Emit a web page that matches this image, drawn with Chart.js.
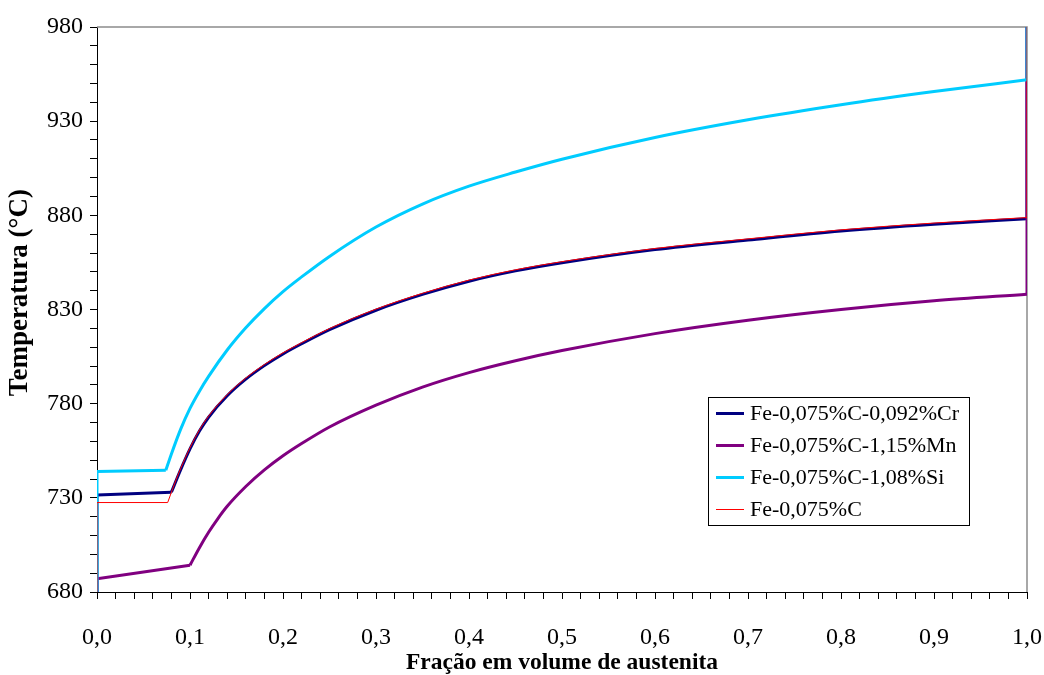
<!DOCTYPE html>
<html>
<head>
<meta charset="utf-8">
<script src="https://cdn.jsdelivr.net/npm/chart.js@4.4.1/dist/chart.umd.min.js"></script>
<style>
  html, body { margin: 0; padding: 0; background: #fff; }
  #wrap { width: 1044px; height: 675px; }
</style>
</head>
<body>
<div id="wrap"><canvas id="c" width="1044" height="675"></canvas></div>
<script>
// ---- Data ----
const seriesLabels = ["Fe-0,075%C-0,092%Cr", "Fe-0,075%C-1,15%Mn", "Fe-0,075%C-1,08%Si", "Fe-0,075%C"];

// Each series: vertical rise at x=0, straight stretch to the knee (index 2), curve to x=1, vertical rise at x=1.
const crX = [0, 0, 0.08, 0.09, 0.10, 0.11, 0.12, 0.14, 0.16, 0.18, 0.20, 0.22, 0.25, 0.30, 0.35, 0.40, 0.45, 0.50, 0.60, 0.70, 0.80, 0.90, 1.00, 1.00];
const crT = [680, 731.5, 733, 745, 756, 765.3, 772.8, 784.2, 793, 800.2, 806.4, 811.8, 819.3, 829.6, 838, 845, 850.5, 854.8, 861.8, 866.9, 871.7, 875.3, 878.2, 980];

const mnX = [0, 0, 0.10, 0.11, 0.12, 0.13, 0.14, 0.16, 0.18, 0.20, 0.22, 0.25, 0.30, 0.35, 0.40, 0.45, 0.50, 0.60, 0.70, 0.80, 0.90, 1.00, 1.00];
const mnT = [680, 687, 694.2, 703.4, 711.7, 719.0, 725.5, 736.0, 744.8, 752.3, 758.8, 767.6, 779.2, 788.8, 796.5, 802.8, 808.2, 817.2, 824.3, 830.0, 834.6, 838.1, 980];

const siX = [0, 0, 0.074, 0.08, 0.09, 0.10, 0.11, 0.12, 0.14, 0.16, 0.18, 0.20, 0.22, 0.25, 0.30, 0.35, 0.40, 0.45, 0.50, 0.60, 0.70, 0.80, 0.90, 1.00, 1.00];
const siT = [680, 744, 744.6, 753.3, 766.5, 777.5, 786.5, 794.5, 808.5, 820.3, 830.5, 839.5, 847.3, 858.2, 873.8, 886.0, 895.5, 903.0, 909.8, 921.3, 930.7, 938.7, 945.7, 952, 980];

const cX = [0, 0, 0.076, 0.085, 0.09, 0.10, 0.11, 0.12, 0.14, 0.16, 0.18, 0.20, 0.22, 0.25, 0.30, 0.35, 0.40, 0.45, 0.50, 0.60, 0.70, 0.80, 0.90, 1.00, 1.00];
const cT = [680, 727.5, 727.5, 739.6, 745.6, 756.6, 765.9, 773.4, 784.8, 793.6, 800.8, 807.0, 812.4, 819.9, 830.2, 838.6, 845.6, 851.1, 855.4, 862.4, 867.5, 872.3, 875.9, 878.8, 980];

const kneeIndex = 2;
const yTickMin = 680, yTickMax = 980, yMajorStep = 50, yMinorStep = 10;
const xTickMin = 0, xTickMax = 1, xMajorStep = 0.1, xMinorStep = 0.02;

const toPts = (xs, ys) => xs.map((x, i) => ({ x: x, y: ys[i] }));

const seriesStyle = [
  { color: '#000080', width: 3, order: 3 },
  { color: '#800080', width: 3, order: 2 },
  { color: '#00CCFF', width: 3, order: 1 },
  { color: '#FF0000', width: 1, order: 0 }
];
const seriesData = [[crX, crT], [mnX, mnT], [siX, siT], [cX, cT]];

const datasets = [];
seriesData.forEach(([xs, ys], i) => {
  const pts = toPts(xs, ys);
  const n = pts.length;
  const st = seriesStyle[i];
  const base = { label: seriesLabels[i], borderColor: st.color, borderWidth: st.width, order: st.order };
  // straight part: vertical rise at x=0 + flat stretch up to the knee
  datasets.push(Object.assign({}, base, { inLegend: true, data: pts.slice(0, kneeIndex + 1), tension: 0 }));
  // smooth part from the knee to the value at x=1
  datasets.push(Object.assign({}, base, { inLegend: false, data: pts.slice(kneeIndex, n - 1), cubicInterpolationMode: 'monotone' }));
  // vertical rise at x=1
  datasets.push(Object.assign({}, base, { inLegend: false, data: pts.slice(n - 2), tension: 0 }));
});

// ---- Plugins: plot frame (grey top/right) and boxed legend inside the plot ----
const framePlugin = {
  id: 'frame',
  beforeDatasetsDraw(chart) {
    const { ctx, chartArea: a } = chart;
    ctx.save();
    ctx.strokeStyle = '#8c8c8c';
    ctx.lineWidth = 1.5;
    ctx.beginPath();
    ctx.moveTo(a.left, a.top);
    ctx.lineTo(a.right, a.top);
    ctx.lineTo(a.right, a.bottom);
    ctx.stroke();
    ctx.restore();
  }
};

const boxLegendPlugin = {
  id: 'boxLegend',
  afterDraw(chart) {
    const ctx = chart.ctx;
    const bx = 708.5, by = 397.5, bw = 261, bh = 128;
    ctx.save();
    ctx.fillStyle = '#fff';
    ctx.fillRect(bx, by, bw, bh);
    ctx.strokeStyle = '#000';
    ctx.lineWidth = 1;
    ctx.strokeRect(bx, by, bw, bh);
    ctx.font = '22px "Liberation Serif", "Times New Roman", serif';
    ctx.textBaseline = 'middle';
    ctx.textAlign = 'left';
    chart.data.datasets.filter(d => d.inLegend).forEach((ds, i) => {
      const y = 413.5 + i * 32;
      ctx.strokeStyle = ds.borderColor;
      ctx.lineWidth = ds.borderWidth;
      ctx.beginPath();
      ctx.moveTo(716, y);
      ctx.lineTo(744, y);
      ctx.stroke();
      ctx.fillStyle = '#000';
      ctx.fillText(ds.label, 750, y + 1);
    });
    ctx.restore();
  }
};

const serif = "'Liberation Serif', 'Times New Roman', serif";

new Chart(document.getElementById('c'), {
  type: 'line',
  data: { datasets: datasets },
  options: {
    responsive: false,
    animation: false,
    devicePixelRatio: 1,
    parsing: false,
    elements: {
      point: { radius: 0, hoverRadius: 0 },
      line: { fill: false, borderCapStyle: 'butt', borderJoinStyle: 'miter' }
    },
    layout: { padding: { top: 27, right: 17, left: 0, bottom: 0 } },
    plugins: {
      legend: { display: false },
      tooltip: { enabled: false }
    },
    scales: {
      x: {
        type: 'linear',
        min: xTickMin,
        max: xTickMax,
        border: { display: true, color: '#000', width: 1 },
        grid: { drawOnChartArea: false, drawTicks: true, tickLength: 7, tickColor: '#000' },
        ticks: {
          stepSize: xMinorStep,
          maxTicksLimit: 200,
          autoSkip: false,
          maxRotation: 0,
          minRotation: 0,
          padding: 24,
          color: '#000',
          font: { family: serif, size: 24 },
          callback: (v) => {
            const k = Math.round(v / xMinorStep);
            const per = Math.round(xMajorStep / xMinorStep);
            return k % per === 0 ? (k * xMinorStep).toFixed(1).replace('.', ',') : '';
          }
        },
        title: {
          display: true,
          text: 'Fração em volume de austenita',
          color: '#000',
          font: { family: serif, size: 23.5, weight: 'bold', lineHeight: 1 },
          padding: { top: 0, bottom: 0 }
        },
        afterFit: (s) => { s.height = 83; s.paddingLeft = 0; s.paddingRight = 0; }
      },
      y: {
        type: 'linear',
        min: yTickMin,
        max: yTickMax,
        border: { display: true, color: '#000', width: 1 },
        grid: { drawOnChartArea: false, drawTicks: true, tickLength: 7, tickColor: '#000' },
        ticks: {
          stepSize: yMinorStep,
          maxTicksLimit: 200,
          autoSkip: false,
          padding: 7,
          color: '#000',
          font: { family: serif, size: 24 },
          callback: (v) => {
            const r = Math.round(v);
            return (r - yTickMin) % yMajorStep === 0 ? String(r) : '';
          }
        },
        title: {
          display: true,
          text: '     Temperatura (°C)',
          color: '#000',
          font: { family: serif, size: 27, weight: 'bold' },
          padding: { top: 4, bottom: 0 }
        },
        afterFit: (s) => { s.width = 97; s.paddingTop = 0; s.paddingBottom = 0; }
      }
    }
  },
  plugins: [framePlugin, boxLegendPlugin]
});
</script>
</body>
</html>
